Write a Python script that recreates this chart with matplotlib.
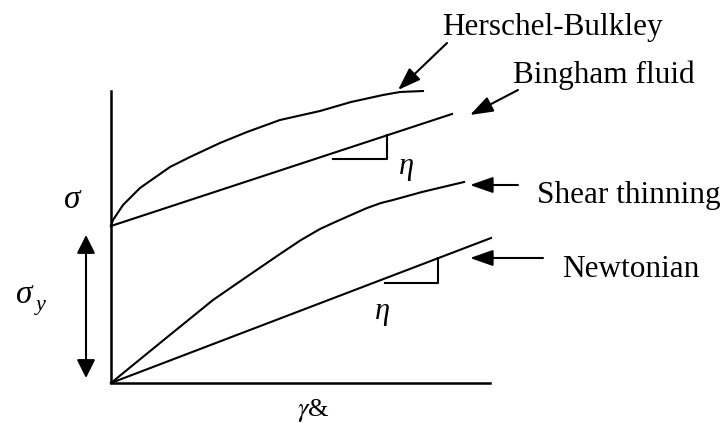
import numpy as np
import matplotlib
matplotlib.use("Agg")
import matplotlib.pyplot as plt

plt.rcParams["mathtext.fontset"] = "stix"

# Schematic flow curves: shear stress vs shear rate (arbitrary units)
axis_x_end = 379
axis_y_end = 292

bingham_x = [0, 341]
bingham_y = [157, 269]

newton_x = [0, 380]
newton_y = [0, 145]

thinning_x = [0, 49, 102, 131, 169, 190, 209, 222, 240, 256, 270, 282, 311, 332, 353]
thinning_y = [0, 40, 83, 103, 129, 143, 154, 160, 168, 175, 180, 183, 191, 196, 201]

hb_x = [0, 2, 12, 29, 59, 79, 109, 136, 169, 209, 240, 272, 289, 312]
hb_y = [157, 163, 178, 195, 216, 226, 240, 251, 263, 272, 281, 288, 291, 292]

# slope triangles (horizontal leg, closed up to the line)
tri_bingham_x = [222, 276]
tri_bingham_y = 224
tri_newton_x = [274, 327]
tri_newton_y = 100

labels = ["Herschel-Bulkley", "Bingham fluid", "Shear thinning", "Newtonian"]
label_pos = [(331, 348), (402, 300), (426, 180), (451, 106)]
arrow_tail = [(336, 340), (407, 293), (407, 198), (432, 125)]
arrow_tip = [(287, 293), (359, 268), (359, 198), (359, 125)]

yield_arrow_x = -25
yield_arrow_y = [5, 148]

SERIF = ["Liberation Serif", "DejaVu Serif"]
LW = 1.5

fig = plt.figure(figsize=(7.27, 4.23), dpi=100)
ax = fig.add_axes([0, 0, 1, 1])
ax.set_xlim(-111, 616)
ax.set_ylim(-40, 383)
ax.axis("off")

# axes of the sketch
ax.plot([0, 0, axis_x_end], [axis_y_end, 0, 0], color="black", lw=1.8,
        solid_joinstyle="miter")

ax.plot(bingham_x, bingham_y, color="black", lw=LW)
ax.plot(newton_x, newton_y, color="black", lw=LW)
ax.plot(thinning_x, thinning_y, color="black", lw=LW, solid_joinstyle="round")
ax.plot(hb_x, hb_y, color="black", lw=LW, solid_joinstyle="round")

# slope triangles
top_b = np.interp(tri_bingham_x[1], bingham_x, bingham_y)
ax.plot([tri_bingham_x[0], tri_bingham_x[1], tri_bingham_x[1]],
        [tri_bingham_y, tri_bingham_y, top_b], color="black", lw=LW)
top_n = np.interp(tri_newton_x[1], newton_x, newton_y)
ax.plot([tri_newton_x[0], tri_newton_x[1], tri_newton_x[1]],
        [tri_newton_y, tri_newton_y, top_n], color="black", lw=LW)

# labelled arrows
for text, pos, tail, tip in zip(labels, label_pos, arrow_tail, arrow_tip):
    ax.annotate("", xy=tip, xytext=tail,
                arrowprops=dict(arrowstyle="-|>,head_length=1.0,head_width=0.35",
                                mutation_scale=14, color="black", lw=LW,
                                shrinkA=0, shrinkB=0))
    ax.text(pos[0], pos[1], text, family=SERIF, fontsize=22.5,
            ha="left", va="baseline")

# yield stress double arrow
ax.annotate("", xy=(yield_arrow_x, yield_arrow_y[0]),
            xytext=(yield_arrow_x, yield_arrow_y[1]),
            arrowprops=dict(arrowstyle="<|-|>,head_length=0.8,head_width=0.4",
                            mutation_scale=14, color="black", lw=LW,
                            shrinkA=0, shrinkB=0))

# greek symbols
ax.text(-39, 183, "σ", family=SERIF, style="italic", fontsize=24,
        ha="center", va="center")
ax.text(-87, 88, "σ", family=SERIF, style="italic", fontsize=24,
        ha="center", va="center")
ax.text(-70, 78, "y", family=SERIF, style="italic", fontsize=16,
        ha="center", va="center")
ax.text(295, 217, "η", family=SERIF, style="italic", fontsize=22,
        ha="center", va="center")
ax.text(271, 72, "η", family=SERIF, style="italic", fontsize=22,
        ha="center", va="center")

# shear-rate label (gamma with broken dot accent, as in the source)
ax.text(202, -27, r"$\gamma$&", family=SERIF, fontsize=19,
        ha="center", va="center")

fig.savefig("out.png", dpi=100)
